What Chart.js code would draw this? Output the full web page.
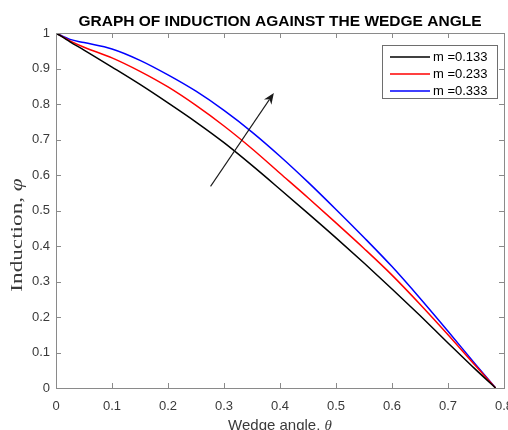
<!DOCTYPE html>
<html>
<head>
<meta charset="utf-8">
<script src="https://cdn.jsdelivr.net/npm/chart.js@4.4.1/dist/chart.umd.min.js"></script>
<style>
  html, body { margin: 0; padding: 0; background: #fff; }
  #wrap { width: 508px; height: 430px; }
</style>
</head>
<body>
<div id="wrap"><canvas id="chart" width="508" height="430"></canvas></div>
<script>
// wedge angle samples (theta) and induction values
const theta = [0, 0.025, 0.05, 0.1, 0.15, 0.2, 0.25, 0.3, 0.35, 0.4, 0.45, 0.5, 0.55, 0.6, 0.65, 0.7, 0.75, 0.785];
const m133 = [1, 0.975, 0.952, 0.904, 0.855, 0.803, 0.749, 0.691, 0.627, 0.560, 0.492, 0.423, 0.352, 0.279, 0.204, 0.127, 0.051, 0];
const m233 = [1, 0.978, 0.960, 0.930, 0.892, 0.848, 0.796, 0.738, 0.674, 0.605, 0.536, 0.465, 0.393, 0.318, 0.236, 0.150, 0.061, 0];
const m333 = [1, 0.982, 0.973, 0.955, 0.923, 0.882, 0.836, 0.782, 0.721, 0.653, 0.580, 0.503, 0.424, 0.342, 0.253, 0.160, 0.065, 0];

const seriesLabels = ['m =0.133', 'm =0.233', 'm =0.333'];
const seriesColors = ['#000000', '#ff0000', '#0000ff'];

const xTickLabels = ['0', '0.1', '0.2', '0.3', '0.4', '0.5', '0.6', '0.7', '0.8'];
const yTickLabels = ['0', '0.1', '0.2', '0.3', '0.4', '0.5', '0.6', '0.7', '0.8', '0.9', '1'];

// arrow annotation (data coords): tail -> head
const arrowFrom = [0.276, 0.568];
const arrowTo = [0.389, 0.831];

const titleText = 'GRAPH OF INDUCTION AGAINST THE WEDGE ANGLE';

const toPoints = (ys) => theta.map((t, i) => ({ x: t, y: ys[i] }));

const AXIS_COLOR = '#8a8a8a';
const TEXT_COLOR = '#3a3a3a';

// box, inward ticks, title, axis titles, arrow and legend (matlab look)
const matlabDecor = {
  id: 'matlabDecor',
  afterDraw(chart) {
    const ctx = chart.ctx;
    const a = chart.chartArea;
    const xs = chart.scales.x;
    const ys = chart.scales.y;
    ctx.save();

    // arrow
    const x0 = xs.getPixelForValue(arrowFrom[0]), y0 = ys.getPixelForValue(arrowFrom[1]);
    const x1 = xs.getPixelForValue(arrowTo[0]), y1 = ys.getPixelForValue(arrowTo[1]);
    const ang = Math.atan2(y1 - y0, x1 - x0);
    const hl = 11, hw = 4.5;
    ctx.strokeStyle = '#1a1a1a';
    ctx.fillStyle = '#1a1a1a';
    ctx.lineWidth = 1.1;
    ctx.beginPath();
    ctx.moveTo(x0, y0);
    ctx.lineTo(x1 - Math.cos(ang) * hl * 0.7, y1 - Math.sin(ang) * hl * 0.7);
    ctx.stroke();
    ctx.beginPath();
    ctx.moveTo(x1, y1);
    ctx.lineTo(x1 - Math.cos(ang) * hl - Math.sin(ang) * hw, y1 - Math.sin(ang) * hl + Math.cos(ang) * hw);
    ctx.lineTo(x1 - Math.cos(ang) * hl * 0.7, y1 - Math.sin(ang) * hl * 0.7);
    ctx.lineTo(x1 - Math.cos(ang) * hl + Math.sin(ang) * hw, y1 - Math.sin(ang) * hl - Math.cos(ang) * hw);
    ctx.closePath();
    ctx.fill();

    // axes box
    ctx.strokeStyle = AXIS_COLOR;
    ctx.lineWidth = 1;
    ctx.strokeRect(Math.round(a.left) + 0.5, Math.round(a.top) + 0.5,
      Math.round(a.right - a.left), Math.round(a.bottom - a.top));

    // inward ticks on all four sides
    const tl = 5;
    ctx.beginPath();
    xs.ticks.forEach(t => {
      const px = Math.round(xs.getPixelForValue(t.value)) + 0.5;
      ctx.moveTo(px, a.bottom); ctx.lineTo(px, a.bottom - tl);
      ctx.moveTo(px, a.top); ctx.lineTo(px, a.top + tl);
    });
    ys.ticks.forEach(t => {
      const py = Math.round(ys.getPixelForValue(t.value)) + 0.5;
      ctx.moveTo(a.left, py); ctx.lineTo(a.left + tl, py);
      ctx.moveTo(a.right, py); ctx.lineTo(a.right - tl, py);
    });
    ctx.stroke();

    // title
    ctx.fillStyle = '#000';
    ctx.font = 'bold 15.5px "Liberation Sans", Arial, sans-serif';
    ctx.textAlign = 'center';
    ctx.textBaseline = 'alphabetic';
    ctx.fillText(titleText, (a.left + a.right) / 2, 26);

    // x axis title: "Wedge angle, " + italic theta
    ctx.fillStyle = TEXT_COLOR;
    const xt1 = 'Wedge angle, ';
    const xt2 = 'θ';
    ctx.font = '15px "Liberation Sans", Arial, sans-serif';
    const w1 = ctx.measureText(xt1).width;
    ctx.font = 'italic 15px "Liberation Serif", serif';
    const w2 = ctx.measureText(xt2).width;
    let sx = (a.left + a.right) / 2 - (w1 + w2) / 2;
    ctx.textAlign = 'left';
    ctx.font = '15px "Liberation Sans", Arial, sans-serif';
    ctx.fillText(xt1, sx, 430);
    ctx.font = 'italic 15px "Liberation Serif", serif';
    ctx.fillText(xt2, sx + w1, 430);

    // y axis title (serif, rotated, wide)
    ctx.save();
    ctx.translate(22, 235);
    ctx.rotate(-Math.PI / 2);
    ctx.scale(1.45, 1);
    const yt1 = 'Induction, ';
    const yt2 = 'φ';
    ctx.font = '16px "Liberation Serif", serif';
    const v1 = ctx.measureText(yt1).width;
    ctx.font = 'italic 16px "Liberation Serif", serif';
    const v2 = ctx.measureText(yt2).width;
    ctx.textAlign = 'left';
    ctx.font = '16px "Liberation Serif", serif';
    ctx.fillText(yt1, -(v1 + v2) / 2, 0);
    ctx.font = 'italic 16px "Liberation Serif", serif';
    ctx.fillText(yt2, -(v1 + v2) / 2 + v1, 0);
    ctx.restore();

    // legend box, top right inside the axes
    const lw = 115, lh = 53;
    const lx = a.right - 7 - lw, ly = a.top + 12;
    ctx.fillStyle = '#fff';
    ctx.fillRect(lx, ly, lw, lh);
    ctx.strokeStyle = '#6e6e6e';
    ctx.lineWidth = 1;
    ctx.strokeRect(Math.round(lx) + 0.5, Math.round(ly) + 0.5, lw, lh);
    ctx.font = '13px "Liberation Sans", Arial, sans-serif';
    ctx.textBaseline = 'middle';
    ctx.textAlign = 'left';
    chart.data.datasets.forEach((ds, i) => {
      const ry = ly + 12 + i * 17;
      ctx.strokeStyle = ds.borderColor;
      ctx.lineWidth = 1.5;
      ctx.beginPath();
      ctx.moveTo(lx + 8, ry); ctx.lineTo(lx + 48, ry);
      ctx.stroke();
      ctx.fillStyle = '#000';
      ctx.fillText(ds.label, lx + 51, ry + 0.5);
    });

    ctx.restore();
  }
};

const ctx = document.getElementById('chart').getContext('2d');
new Chart(ctx, {
  type: 'line',
  data: {
    datasets: [
      { label: seriesLabels[0], data: toPoints(m133), borderColor: seriesColors[0] },
      { label: seriesLabels[1], data: toPoints(m233), borderColor: seriesColors[1] },
      { label: seriesLabels[2], data: toPoints(m333), borderColor: seriesColors[2] }
    ]
  },
  options: {
    responsive: false,
    animation: false,
    layout: { padding: { top: 33, right: 4, left: 0, bottom: 0 } },
    elements: {
      line: { borderWidth: 1.5, tension: 0.4, cubicInterpolationMode: 'monotone', fill: false },
      point: { radius: 0 }
    },
    plugins: {
      legend: { display: false },
      title: { display: false },
      tooltip: { enabled: false }
    },
    scales: {
      x: {
        type: 'linear',
        min: 0, max: 0.8,
        grid: { display: false, drawTicks: false },
        border: { display: false },
        ticks: {
          stepSize: 0.1,
          padding: 11,
          color: TEXT_COLOR,
          font: { family: '"Liberation Sans", Arial, sans-serif', size: 13 },
          maxRotation: 0,
          callback: (v) => xTickLabels[Math.round(v * 10)]
        },
        afterFit: (s) => { s.height = 42; s.paddingLeft = 0; s.paddingRight = 0; }
      },
      y: {
        min: 0, max: 1,
        grid: { display: false, drawTicks: false },
        border: { display: false },
        ticks: {
          stepSize: 0.1,
          padding: 6,
          color: TEXT_COLOR,
          font: { family: '"Liberation Sans", Arial, sans-serif', size: 13 },
          callback: (v) => yTickLabels[Math.round(v * 10)]
        },
        afterFit: (s) => { s.width = 56; s.paddingTop = 0; s.paddingBottom = 0; }
      }
    }
  },
  plugins: [matlabDecor]
});
</script>
</body>
</html>
